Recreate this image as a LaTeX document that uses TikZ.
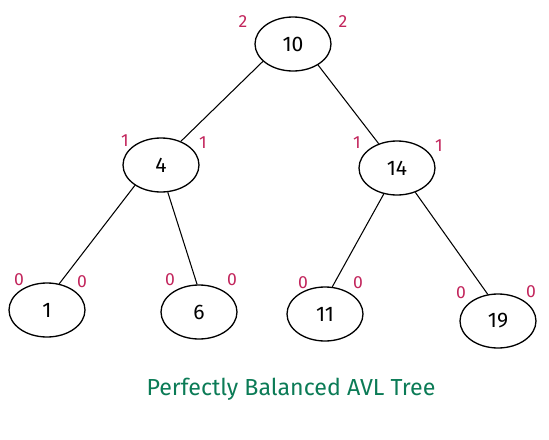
\documentclass[tikz,border=0pt]{standalone}
\usepackage{fontspec}
\setmainfont{Fira Sans}
\usepackage{tikz}
\usetikzlibrary{shapes.geometric}

\definecolor{balcol}{HTML}{C2255C}
\definecolor{titlecol}{HTML}{0B7B56}

\begin{document}
\begin{tikzpicture}[x=0.2mm,y=-0.2mm,
	vertex/.style={ellipse,draw,line width=0.75pt,minimum width=15.2mm,minimum height=10.8mm,inner sep=0pt,font=\fontsize{12}{14}\selectfont},
	bal/.style={text=balcol,font=\fontsize{10}{12}\selectfont,inner sep=0pt},
	edge/.style={line width=0.6pt}]
	
	\useasboundingbox (0,0) rectangle (549,439);
	
	\node[vertex] (10) at (293,44) {10};
	\node[vertex] (4) at (161,165) {4};
	\node[vertex] (14) at (397,168) {14};
	\node[vertex] (1) at (47,310) {1};
	\node[vertex] (6) at (199,312) {6};
	\node[vertex] (11) at (325,314) {11};
	\node[vertex] (19) at (498,321) {19};
	
	% balance factors
	\node[bal] (10l) at (243,22) {2};
	\node[bal] (10r) at (343,22) {2};
	\node[bal] (4l) at (125,141) {1};
	\node[bal] (4r) at (203,143) {1};
	\node[bal] (14l) at (357,143) {1};
	\node[bal] (14r) at (439,146) {1};
	\node[bal] (1l) at (19,280) {0};
	\node[bal] (1r) at (82,282) {0};
	\node[bal] (6l) at (170,280) {0};
	\node[bal] (6r) at (232,280) {0};
	\node[bal] (11l) at (303,283) {0};
	\node[bal] (11r) at (358,283) {0};
	\node[bal] (19l) at (461,293) {0};
	\node[bal] (19r) at (531,292) {0};
	
	\draw[edge] (10.210) -- (4.50);
	\draw[edge] (10.320) -- (14.127);
	\draw[edge] (4.218) -- (1.65);
	\draw[edge] (4.284) -- (6.94);
	\draw[edge] (14.243) -- (11.75);
	\draw[edge] (14.307) -- (19.111);
	
	\node[text=titlecol,font=\fontsize{13.2}{15}\selectfont] (title) at (291,389) {Perfectly Balanced AVL Tree};
	
\end{tikzpicture}
\end{document}
